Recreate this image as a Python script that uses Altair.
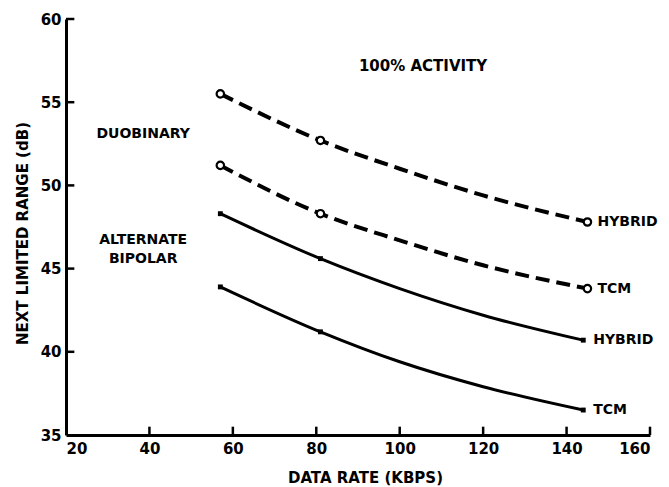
import altair as alt
import pandas as pd

# ---- data ----
curve_x = [57, 81, 100, 120, 145]
duo_hybrid = [55.5, 52.7, 51.0, 49.4, 47.8]
duo_tcm = [51.2, 48.3, 46.7, 45.2, 43.8]
ab_x = [57, 81, 100, 120, 144]
ab_hybrid = [48.3, 45.6, 43.8, 42.2, 40.7]
ab_tcm = [43.9, 41.2, 39.4, 37.9, 36.5]
marker_idx = [0, 1, 4]

end_labels = ["HYBRID", "TCM", "HYBRID", "TCM"]
x_ticks = [20, 40, 60, 80, 100, 120, 140, 160]
y_ticks = [35, 40, 45, 50, 55, 60]

FONT = "DejaVu Sans"

rows = []
for name, xs, ys, kind in [
    ("duo_hybrid", curve_x, duo_hybrid, "duo"),
    ("duo_tcm", curve_x, duo_tcm, "duo"),
    ("ab_hybrid", ab_x, ab_hybrid, "ab"),
    ("ab_tcm", ab_x, ab_tcm, "ab"),
]:
    for i, (x, y) in enumerate(zip(xs, ys)):
        rows.append({"series": name, "kind": kind, "x": x, "y": y,
                     "marker": i in marker_idx})
df = pd.DataFrame(rows)

ends = []
for (name, xs, ys), lab in zip(
    [("duo_hybrid", curve_x, duo_hybrid), ("duo_tcm", curve_x, duo_tcm),
     ("ab_hybrid", ab_x, ab_hybrid), ("ab_tcm", ab_x, ab_tcm)], end_labels):
    ends.append({"x": xs[-1], "y": ys[-1], "label": lab})
ends_df = pd.DataFrame(ends)

notes_df = pd.DataFrame({
    "x": [38.5, 38.5, 38.5],
    "y": [53.1, 46.7, 45.6],
    "label": ["DUOBINARY", "ALTERNATE", "BIPOLAR"],
})
title_df = pd.DataFrame({"x": [105.6], "y": [57.2], "label": ["100% ACTIVITY"]})

xsc = alt.Scale(domain=[20, 160], nice=False, zero=False)
ysc = alt.Scale(domain=[35, 60], nice=False, zero=False)

X = alt.X("x:Q", scale=xsc, axis=alt.Axis(
    values=x_ticks, title="DATA RATE (KBPS)", labelPadding=6,
    titleX=299, titleY=42, titleBaseline="middle"))
Y = alt.Y("y:Q", scale=ysc, axis=alt.Axis(
    values=y_ticks, title="NEXT LIMITED RANGE (dB)", labelPadding=5,
    titleX=-44, titleY=214, titleBaseline="middle", titleAngle=-90))

base = alt.Chart(df)

dashed = base.transform_filter(alt.datum.kind == "duo").mark_line(
    color="black", strokeWidth=4, strokeDash=[14, 7], interpolate="monotone"
).encode(x=X, y=Y, detail="series:N")

solid = base.transform_filter(alt.datum.kind == "ab").mark_line(
    color="black", strokeWidth=3, interpolate="monotone"
).encode(x="x:Q", y="y:Q", detail="series:N")

circles = base.transform_filter(
    (alt.datum.kind == "duo") & alt.datum.marker
).mark_point(shape="circle", filled=True, fill="white", stroke="black",
             strokeWidth=2.2, size=55, opacity=1).encode(x="x:Q", y="y:Q")

squares = base.transform_filter(
    (alt.datum.kind == "ab") & alt.datum.marker
).mark_point(shape="square", filled=True, color="black", size=24,
             opacity=1).encode(x="x:Q", y="y:Q")

end_text = alt.Chart(ends_df).mark_text(
    align="left", baseline="middle", dx=10, font=FONT, fontSize=14,
    fontWeight="bold", color="black"
).encode(x="x:Q", y="y:Q", text="label:N")

note_text = alt.Chart(notes_df).mark_text(
    align="center", baseline="middle", font=FONT, fontSize=14,
    fontWeight="bold", color="black"
).encode(x="x:Q", y="y:Q", text="label:N")

title_text = alt.Chart(title_df).mark_text(
    align="center", baseline="middle", font=FONT, fontSize=15,
    fontWeight="bold", color="black"
).encode(x="x:Q", y="y:Q", text="label:N")

# inward tick marks
ytick_df = pd.DataFrame({"y": y_ticks[1:], "x": [20] * 5, "x2": [22] * 5})
xtick_df = pd.DataFrame({"x": x_ticks[1:], "y": [35] * 7, "y2": [35.5] * 7})
yticks = alt.Chart(ytick_df).mark_rule(color="black", strokeWidth=2.5).encode(
    x="x:Q", x2="x2:Q", y="y:Q")
xticks = alt.Chart(xtick_df).mark_rule(color="black", strokeWidth=2.5).encode(
    x="x:Q", y="y:Q", y2="y2:Q")

chart = alt.layer(dashed, solid, circles, squares, end_text, note_text,
                  title_text, yticks, xticks).properties(
    width=584, height=416,
    autosize=alt.AutoSizeParams(type="none"),
    padding={"left": 66, "top": 19, "right": 19, "bottom": 52},
    background="white",
).configure_view(stroke=None).configure_axis(
    grid=False, ticks=False, domainColor="black", domainWidth=3,
    labelFont=FONT, labelFontSize=15, labelFontWeight="bold",
    labelColor="black", titleFont=FONT, titleFontSize=15,
    titleFontWeight="bold", titleColor="black",
)

chart.save("out.html", embed_options={"renderer": "svg", "actions": False})
